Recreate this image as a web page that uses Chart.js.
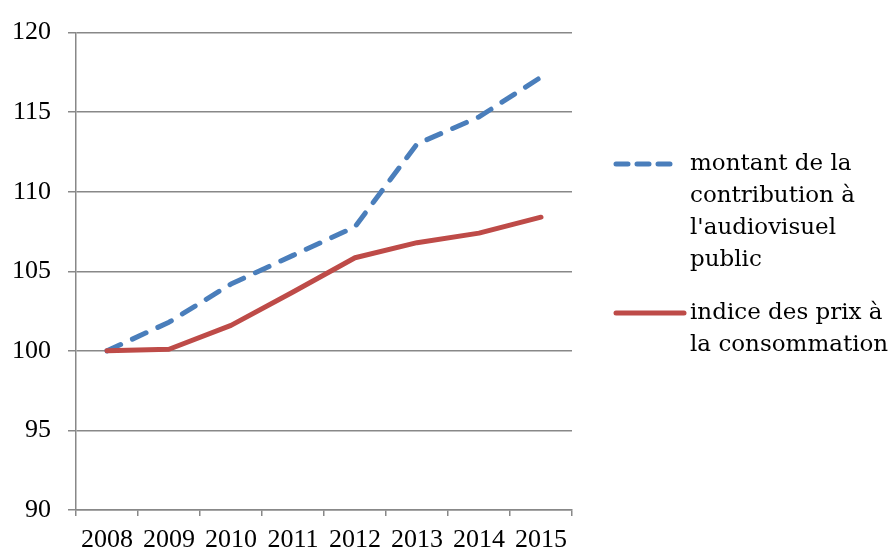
<!DOCTYPE html>
<html>
<head>
<meta charset="utf-8">
<script src="https://cdn.jsdelivr.net/npm/chart.js@4"></script>
<style>
  html, body { margin: 0; padding: 0; background: #fff; }
  #wrap { width: 895px; height: 552px; }
</style>
</head>
<body>
<div id="wrap"><canvas id="chart" width="895" height="552"></canvas></div>
<script>
// Data
const years = ["2008", "2009", "2010", "2011", "2012", "2013", "2014", "2015"];
const contributionValues = [100, 101.8, 104.2, 106.0, 107.8, 113.0, 114.7, 117.2];
const prixValues = [100, 100.1, 101.6, 103.7, 105.85, 106.8, 107.4, 108.4];
const contributionLabel = ["montant de la", "contribution à", "l'audiovisuel", "public"];
const prixLabel = ["indice des prix à", "la consommation"];
const yTicks = [90, 95, 100, 105, 110, 115, 120];

const blue = "#4a7ebb";
const red = "#be4b48";
const gridColor = "#888888";
const tickFont = "'Liberation Serif', serif";
const legendFont = "'DejaVu Serif', serif";

// Legend on the right, drawn by hand so the labels can wrap like the original
const sideLegend = {
  id: "sideLegend",
  afterDraw(chart) {
    const ctx = chart.ctx;
    const items = [
      { lines: contributionLabel, color: blue, dash: [12, 9], y: 164, x2: 676 },
      { lines: prixLabel, color: red, dash: [], y: 313, x2: 684 },
    ];
    ctx.save();
    ctx.font = "23px " + legendFont;
    ctx.fillStyle = "#000";
    ctx.textBaseline = "middle";
    items.forEach((item) => {
      ctx.beginPath();
      ctx.setLineDash(item.dash);
      ctx.lineCap = "round";
      ctx.lineWidth = 5;
      ctx.strokeStyle = item.color;
      ctx.moveTo(616, item.y);
      ctx.lineTo(item.x2, item.y);
      ctx.stroke();
      item.lines.forEach((line, i) => {
        ctx.fillText(line, 690, item.y + i * 32);
      });
    });
    ctx.restore();
  },
};

const chart = new Chart(document.getElementById("chart"), {
  type: "line",
  data: {
    labels: years,
    datasets: [
      {
        label: contributionLabel.join(" "),
        data: contributionValues,
        borderColor: blue,
        borderWidth: 5,
        borderDash: [15, 13],
        borderCapStyle: "round",
        borderJoinStyle: "round",
        pointRadius: 0,
        tension: 0,
        order: 1,
      },
      {
        label: prixLabel.join(" "),
        data: prixValues,
        borderColor: red,
        borderWidth: 5,
        borderCapStyle: "round",
        borderJoinStyle: "round",
        pointRadius: 0,
        tension: 0,
        order: 0,
      },
    ],
  },
  options: {
    responsive: false,
    animation: false,
    layout: { padding: { top: 30, right: 323, bottom: 0, left: 0 } },
    plugins: {
      legend: { display: false },
      tooltip: { enabled: false },
    },
    scales: {
      x: {
        offset: true,
        afterFit: (scale) => { scale.height = 42; },
        grid: {
          offset: true,
          drawOnChartArea: false,
          drawTicks: true,
          tickLength: 6,
          color: gridColor,
          lineWidth: 1.5,
        },
        border: { color: gridColor, width: 1.5 },
        ticks: {
          autoSkip: false,
          maxRotation: 0,
          padding: 9,
          color: "#000",
          font: { family: tickFont, size: 26 },
        },
      },
      y: {
        min: 90,
        max: 120,
        afterFit: (scale) => { scale.width = 76; },
        afterBuildTicks: (scale) => { scale.ticks = yTicks.map((v) => ({ value: v })); },
        grid: {
          drawTicks: true,
          tickLength: 8,
          color: gridColor,
          lineWidth: 1.5,
        },
        border: { color: gridColor, width: 1.5 },
        ticks: {
          padding: 17,
          color: "#000",
          font: { family: tickFont, size: 26 },
        },
      },
    },
  },
  plugins: [sideLegend],
});
</script>
</body>
</html>
